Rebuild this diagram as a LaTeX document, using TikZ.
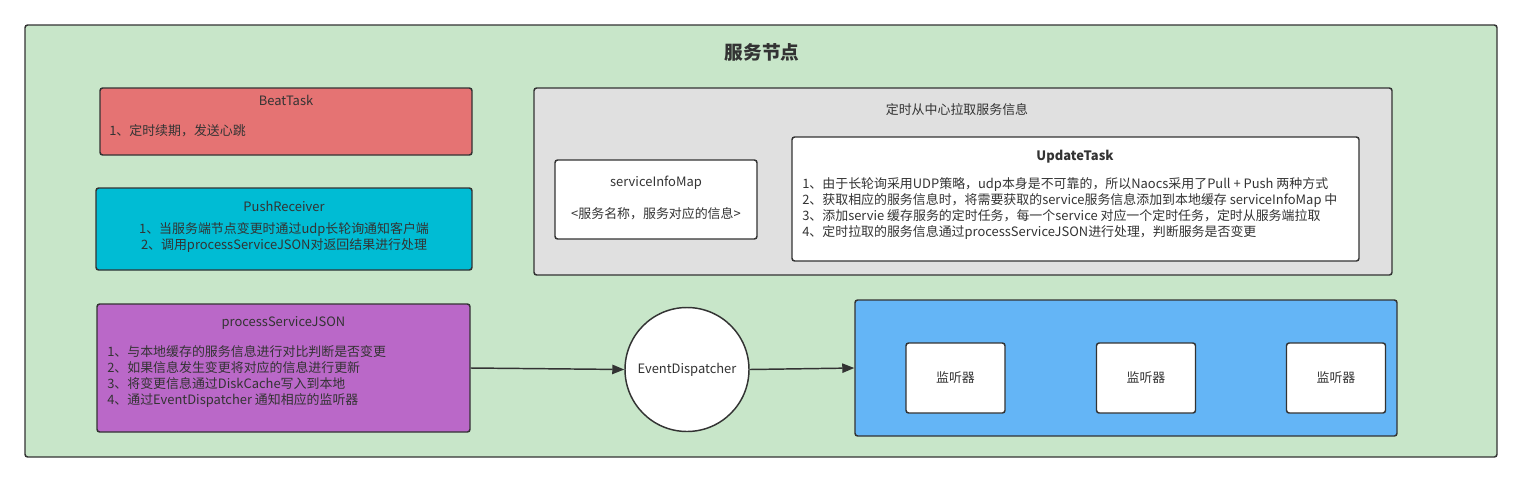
\documentclass[tikz,border=0pt]{standalone}
\usepackage{fontspec}
\setmainfont{Noto Sans CJK SC}
\usepackage{xcolor}
\usepackage{tikz}
\usetikzlibrary{arrows.meta}

\definecolor{nodegreen}{HTML}{C8E6C9}
\definecolor{beatred}{HTML}{E57373}
\definecolor{pushcyan}{HTML}{00BCD4}
\definecolor{procpurple}{HTML}{BA68C8}
\definecolor{pullgray}{HTML}{E0E0E0}
\definecolor{lsnblue}{HTML}{64B5F6}
\definecolor{txtgray}{HTML}{333333}

\tikzset{
  box/.style={draw=txtgray, line width=1.1pt, rounded corners=2pt, inner sep=0pt},
  txt/.style={inner sep=0.75pt, text=txtgray, font=\fontsize{9.7}{12}\selectfont},
  conn/.style={draw=txtgray, line width=1.1pt, -{Triangle[length=9pt,width=7pt]}}
}

\begin{document}
\begin{tikzpicture}[x=0.75pt,y=0.75pt,yscale=-1,xscale=1]
        \useasboundingbox (0,0) rectangle (1522,483);
        % outer container
        \node [box, fill=nodegreen, minimum width=1104pt, minimum height=324pt] (svc) at (761,241) {};
        \node [txt, font=\fontsize{14}{16}\selectfont\bfseries] (svctitle) at (762,52) {服务节点};
        % BeatTask
        \node [box, fill=beatred, minimum width=279pt, minimum height=50.25pt] (beat) at (286,121.5) {};
        \node [txt] (beattitle) at (286,100) {BeatTask};
        \node [txt, anchor=west] (beattext) at (108,131) {1、定时续期，发送心跳};
        % PushReceiver
        \node [box, fill=pushcyan, minimum width=282pt, minimum height=61.5pt] (push) at (284,229) {};
        \node [txt] (pushtitle) at (284,206) {PushReceiver};
        \node [txt, anchor=north, align=center] (pushtext) at (284,221) {1、当服务端节点变更时通过udp长轮询通知客户端\\2、调用processServiceJSON对返回结果进行处理};
        % processServiceJSON
        \node [box, fill=procpurple, minimum width=279.75pt, minimum height=96pt] (proc) at (283.5,368) {};
        \node [txt] (proctitle) at (283.5,323) {processServiceJSON};
        \node [txt, anchor=north west, align=left] (proctext) at (106,344) {1、与本地缓存的服务信息进行对比判断是否变更\\2、如果信息发生变更将对应的信息进行更新\\3、将变更信息通过DiskCache写入到本地\\4、通过EventDispatcher 通知相应的监听器};
        % pull from center
        \node [box, fill=pullgray, minimum width=643.5pt, minimum height=140.25pt] (pull) at (963,181.5) {};
        \node [txt] (pulltitle) at (957,110) {定时从中心拉取服务信息};
        \node [box, fill=white, minimum width=151.5pt, minimum height=59.25pt] (infomap) at (656,199.5) {};
        \node [txt] (infomaptitle) at (656,183) {serviceInfoMap};
        \node [txt] (infomaptext) at (656,214) {<服务名称，服务对应的信息>};
        \node [box, fill=white, minimum width=425.25pt, minimum height=93pt] (update) at (1075.5,199) {};
        \node [txt, font=\fontsize{9.7}{12}\selectfont\bfseries] (updatetitle) at (1075,157) {UpdateTask};
        \node [txt, anchor=north west, align=left] (updatetext) at (801,176) {1、由于长轮询采用UDP策略，udp本身是不可靠的，所以Naocs采用了Pull + Push 两种方式\\2、获取相应的服务信息时，将需要获取的service服务信息添加到本地缓存 serviceInfoMap 中\\3、添加servie 缓存服务的定时任务，每一个service 对应一个定时任务，定时从服务端拉取\\4、定时拉取的服务信息通过processServiceJSON进行处理，判断服务是否变更};
        % dispatcher and listeners
        \node [box, circle, fill=white, minimum size=93pt, txt, draw=txtgray, line width=1.1pt] (disp) at (687,369.5) {EventDispatcher};
        \node [box, fill=lsnblue, minimum width=406.5pt, minimum height=102pt] (lsn) at (1126,368) {};
        \foreach \i/\x in {1/955.5,2/1146,3/1336}
          \node [box, fill=white, minimum width=74.25pt, minimum height=52.5pt, font=\fontsize{9.7}{12}\selectfont, text=txtgray] (lsn\i) at (\x,378) {监听器};
        % connectors
        \draw [conn] (proc.east) -- (disp.west);
        \draw [conn] (disp.east) -- (lsn.west);
    \end{tikzpicture}
\end{document}
